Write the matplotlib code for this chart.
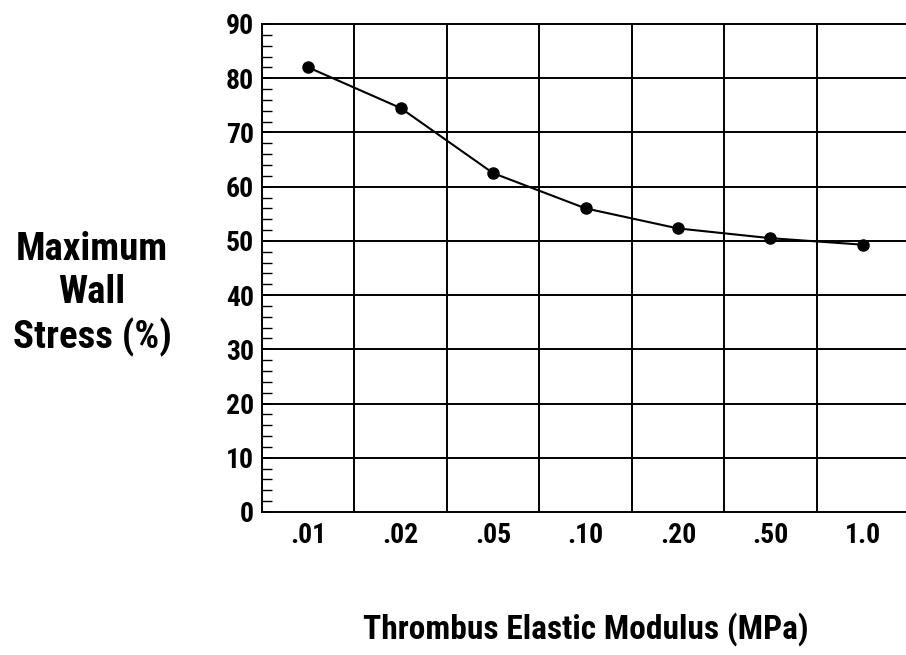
import numpy as np
import matplotlib
matplotlib.use("Agg")
import matplotlib.pyplot as plt

categories = [".01", ".02", ".05", ".10", ".20", ".50", "1.0"]
stress = [82.0, 74.5, 62.5, 56.0, 52.3, 50.5, 49.3]
y_ticks = [0, 10, 20, 30, 40, 50, 60, 70, 80, 90]

FONT = ["Roboto Condensed", "Encode Sans Condensed", "DejaVu Sans"]
plt.rcParams["font.family"] = FONT
plt.rcParams["font.weight"] = "bold"

W, H = 906, 655
fig = plt.figure(figsize=(W / 100, H / 100), dpi=100)
left, right, top, bottom = 262, 909, 24, 512
ax = fig.add_axes([left / W, 1 - bottom / H, (right - left) / W, (bottom - top) / H])

x = np.arange(len(categories))
ax.plot(x, stress, color="black", lw=1.5, marker="o", ms=8, zorder=5, clip_on=False)

ax.set_xlim(-0.5, len(categories) - 0.5)
ax.set_ylim(0, 90)
ax.set_yticks(y_ticks)
ax.set_yticks(np.arange(0, 91, 2), minor=True)
ax.set_xticks(x)
ax.set_xticklabels(categories)
ax.set_xticks(np.arange(0.5, len(categories) - 0.5, 1), minor=True)

ax.tick_params(axis="x", which="major", length=0, pad=7, labelsize=20)
ax.tick_params(axis="x", which="minor", length=0)
ax.tick_params(axis="y", which="major", length=7, width=1.3, direction="in", pad=6, labelsize=20)
ax.tick_params(axis="y", which="minor", length=7, width=1.0, direction="in")

for v in y_ticks[1:-1]:
    ax.axhline(v, color="black", lw=1.4, zorder=1)
for xv in np.arange(0.5, len(categories) - 0.5, 1):
    ax.axvline(xv, color="black", lw=1.4, zorder=1)

for s in ax.spines.values():
    s.set_linewidth(1.4)

fig.text(92 / W, 1 - 294 / H, "Maximum\nWall\nStress (%)", ha="center", va="center",
         fontsize=28, fontweight="bold", linespacing=1.2)
fig.text(586 / W, 1 - 629 / H, "Thrombus Elastic Modulus (MPa)", ha="center", va="center",
         fontsize=24, fontweight="bold")

fig.savefig("out.png", dpi=100)
